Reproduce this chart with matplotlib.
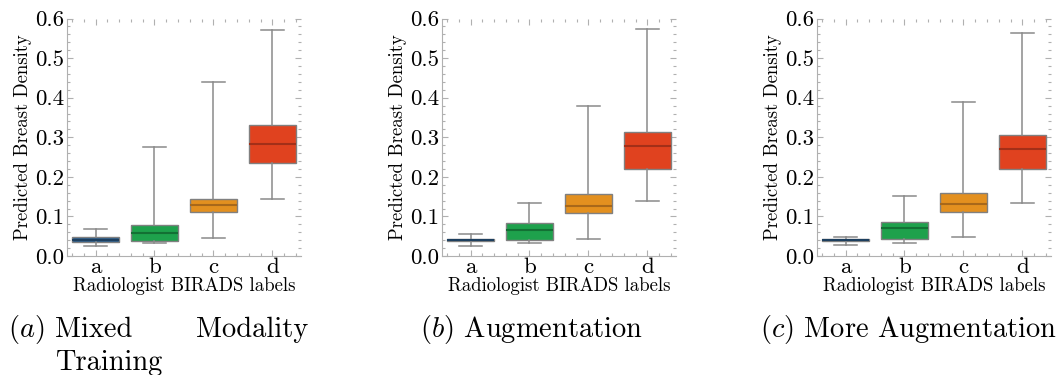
import matplotlib.pyplot as plt
from matplotlib.ticker import MultipleLocator

plt.rcParams['font.family'] = 'cmr10'
plt.rcParams['mathtext.fontset'] = 'cm'
plt.rcParams['axes.formatter.use_mathtext'] = True

W, H = 1063, 375

# Categories and colours
labels = ['a', 'b', 'c', 'd']
box_colors = ['#2b5d8b', '#1ea14c', '#e3901f', '#e0421f']
median_colors = ['#1d3f5f', '#137034', '#a8681a', '#a32f18']

# Box statistics (low whisker, q1, median, q3, high whisker)
mixed_lo = [0.026, 0.032, 0.046, 0.145]
mixed_q1 = [0.036, 0.038, 0.112, 0.234]
mixed_med = [0.041, 0.058, 0.128, 0.284]
mixed_q3 = [0.048, 0.079, 0.145, 0.330]
mixed_hi = [0.068, 0.276, 0.439, 0.572]

aug_lo = [0.026, 0.032, 0.044, 0.139]
aug_q1 = [0.038, 0.040, 0.108, 0.219]
aug_med = [0.041, 0.066, 0.126, 0.278]
aug_q3 = [0.043, 0.084, 0.157, 0.314]
aug_hi = [0.055, 0.134, 0.379, 0.574]

more_lo = [0.029, 0.032, 0.047, 0.134]
more_q1 = [0.038, 0.043, 0.111, 0.219]
more_med = [0.040, 0.070, 0.131, 0.271]
more_q3 = [0.043, 0.087, 0.160, 0.305]
more_hi = [0.049, 0.152, 0.390, 0.563]

panels = [
    (mixed_lo, mixed_q1, mixed_med, mixed_q3, mixed_hi),
    (aug_lo, aug_q1, aug_med, aug_q3, aug_hi),
    (more_lo, more_q1, more_med, more_q3, more_hi),
]
y_ticks = [0.0, 0.1, 0.2, 0.3, 0.4, 0.5, 0.6]

fig = plt.figure(figsize=(W / 100, H / 100), dpi=100)

lefts = [66.7, 441.7, 816.7]  # pixel positions of the axes
for left, (lo, q1, med, q3, hi) in zip(lefts, panels):
    ax = fig.add_axes([left / W, (H - 256) / H, 234.5 / W, 237.5 / H])
    stats = []
    for i in range(len(labels)):
        stats.append(dict(whislo=lo[i], q1=q1[i], med=med[i], q3=q3[i],
                          whishi=hi[i], label=labels[i]))
    bp = ax.bxp(stats, positions=range(len(labels)), widths=0.8,
                showfliers=False, patch_artist=True,
                whiskerprops=dict(color='#8a8a8a', lw=1.1),
                capprops=dict(color='#8a8a8a', lw=1.1),
                boxprops=dict(edgecolor='#808080', lw=1.0),
                medianprops=dict(lw=1.5))
    for patch, c in zip(bp['boxes'], box_colors):
        patch.set_facecolor(c)
    for line, c in zip(bp['medians'], median_colors):
        line.set_color(c)

    ax.set_xlim(-0.49, 3.49)
    ax.set_ylim(0, 0.6)
    ax.set_yticks(y_ticks)
    ax.set_yticklabels([f'{v:.1f}' for v in y_ticks])
    ax.set_xticks(range(len(labels)))
    ax.set_xticklabels(labels)
    ax.xaxis.set_minor_locator(MultipleLocator(0.2))
    ax.yaxis.set_minor_locator(MultipleLocator(0.02))
    ax.tick_params(which='both', direction='in', top=True, right=True,
                   color='#b0b0b0', labelsize=16.5)
    ax.tick_params(which='major', length=4, width=0.8)
    ax.tick_params(which='minor', length=2, width=0.8)
    ax.tick_params(axis='y', pad=2)
    ax.tick_params(axis='x', pad=1)
    for s in ['top', 'right']:
        ax.spines[s].set_visible(False)
    for s in ['left', 'bottom']:
        ax.spines[s].set_color('#b0b0b0')
    ax.set_xlabel('Radiologist BIRADS labels', fontsize=13.5, labelpad=0)
    ax.set_ylabel('Predicted Breast Density', fontsize=13.5, labelpad=2)

# Captions
cap = 20.5
fig.text(8 / W, 1 - 337 / H, r'$(a)$', fontsize=cap, va='baseline')
fig.text(55 / W, 1 - 337 / H, 'Mixed', fontsize=cap, va='baseline')
fig.text(308 / W, 1 - 337 / H, 'Modality', fontsize=cap, va='baseline', ha='right')
fig.text(55 / W, 1 - 370 / H, 'Training', fontsize=cap, va='baseline')
fig.text(420 / W, 1 - 337 / H, r'$(b)$ Augmentation', fontsize=cap, va='baseline')
fig.text(760 / W, 1 - 337 / H, r'$(c)$ More Augmentation', fontsize=cap, va='baseline')

fig.savefig('out.png', dpi=100)
